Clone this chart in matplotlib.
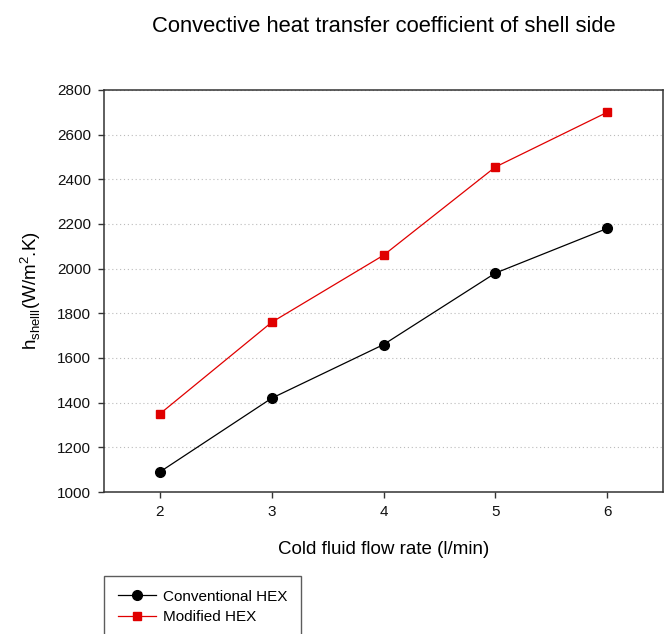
import matplotlib
matplotlib.use("Agg")
import matplotlib.pyplot as plt

plt.rcParams['font.family'] = ['Liberation Sans', 'DejaVu Sans']

# cold side flow rate (l/min)
flow_rate = [2, 3, 4, 5, 6]
# shell side coefficient, W/m2.K
h_conventional = [1090, 1420, 1660, 1980, 2180]
h_modified = [1350, 1760, 2060, 2455, 2700]

fig = plt.figure(figsize=(6.72, 6.34), dpi=100)
ax = fig.add_axes([104/672, 1 - 492/634, 559/672, 402/634])

ax.plot(flow_rate, h_conventional, color='black', lw=0.9, marker='o',
        markersize=7, label='Conventional HEX')
ax.plot(flow_rate, h_modified, color='#e00000', lw=0.9, marker='s',
        markersize=6, label='Modified HEX')

ax.set_xlim(1.5, 6.5)
ax.set_ylim(1000, 2800)
ax.set_xticks(flow_rate)
ax.set_yticks(range(1000, 2801, 200))
ax.yaxis.grid(True, linestyle=(0, (1, 2.5)), color='#bbbbbb', lw=0.8)
ax.set_axisbelow(True)

for s in ax.spines.values():
    s.set_color('#333333')
    s.set_linewidth(1.1)
ax.tick_params(direction='out', length=4.5, width=1, color='#333333',
               labelsize=11, pad=5, labelcolor='#111111')

ax.set_xlabel('Cold fluid flow rate (l/min)', fontsize=13.5, labelpad=16)
ax.set_ylabel(r'h$_{\mathregular{shelll}}$(W/m$^{\mathregular{2}}$.K)', fontsize=13.5, labelpad=10)
ax.set_title('Convective heat transfer coefficient of shell side',
             fontsize=15.8, pad=42)

leg = fig.legend(loc='upper left', bbox_to_anchor=(104/672, 1 - 576/634),
                 fontsize=11, frameon=True, fancybox=False, handlelength=2.5,
                 handletextpad=0.45, borderpad=0.9, labelspacing=0.4,
                 borderaxespad=0)
leg.get_frame().set_edgecolor('#333333')
leg.get_frame().set_linewidth(1.0)

fig.savefig('out.png', dpi=100)
